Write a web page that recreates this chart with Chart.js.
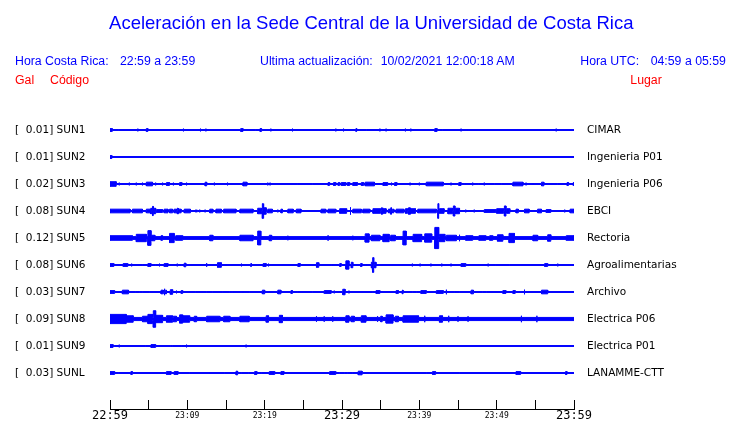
<!DOCTYPE html>
<html><head><meta charset="utf-8">
<script src="https://cdn.jsdelivr.net/npm/chart.js@4"></script>
<style>
html,body{margin:0;padding:0;background:#fff;}
#wrap{position:relative;width:740px;height:423px;overflow:hidden;background:#fff;}
#c{position:absolute;left:0;top:0;}
.t{position:absolute;white-space:pre;font-family:"Liberation Sans",Arial,sans-serif;line-height:1;}
.b{color:#0000ff;font-size:12.3px;top:54.6px;}
.r{color:#ff0000;font-size:12.3px;top:74.4px;}
</style></head><body>
<div id="wrap">
<canvas id="c" width="740" height="423"></canvas>
<div class="t" style="left:0;width:742.6px;text-align:center;top:14.3px;font-size:18.5px;color:#0000ff">Aceleración en la Sede Central de la Universidad de Costa Rica</div>
<div class="t b" style="left:15px">Hora Costa Rica:</div>
<div class="t b" style="left:120px">22:59 a 23:59</div>
<div class="t b" style="left:260px">Ultima actualización:</div>
<div class="t b" style="left:380.7px">10/02/2021 12:00:18 AM</div>
<div class="t b" style="left:580.3px">Hora UTC:</div>
<div class="t b" style="left:650.7px">04:59 a 05:59</div>
<div class="t r" style="left:15px">Gal</div>
<div class="t r" style="left:50px">Código</div>
<div class="t r" style="left:630.3px">Lugar</div>
</div>
<script>
// ---- data ----
const stationCodes = ['SUN1','SUN2','SUN3','SUN4','SUN5','SUN6','SUN7','SUN8','SUN9','SUNL'];
const peakGal = [0.01,0.01,0.02,0.08,0.12,0.08,0.03,0.09,0.01,0.03];
const stationNames = ['CIMAR','Ingenieria P01','Ingenieria P06','EBCI','Rectoria','Agroalimentarias','Archivo','Electrica P06','Electrica P01','LANAMME-CTT'];
const noiseGal = [0.005,0.005,0.005,0.005,0.015,0.005,0.005,0.017,0.005,0.005];
const timeLabels = ['22:59','23:09','23:19','23:29','23:39','23:49','23:59']; // minutes 0..60 every 10
// bursts: [start minute, end minute, amplitude Gal]
const SUN1 = [[0,0.3,0.015],[1.1,1.1,0.01],[3.6,3.6,0.015],[4.7,4.9,0.015],[9.5,9.5,0.015],[11.7,11.7,0.015],[12.4,12.4,0.015],[16.9,17.2,0.015],[18.8,18.8,0.01],[19.4,19.6,0.015],[20.8,20.8,0.015],[23.6,23.6,0.015],[29.2,29.2,0.015],[30.2,30.2,0.015],[31.8,31.9,0.015],[33.2,33.2,0.01],[34.9,34.9,0.015],[35.7,35.7,0.015],[38.2,38.2,0.015],[38.9,38.9,0.015],[42.0,42.3,0.015],[43.0,43.0,0.01],[45.4,45.4,0.015],[46.3,46.3,0.01],[57.7,57.7,0.015]];
const SUN2 = [[0,0.25,0.015]];
const SUN3 = [[0,0.8,0.025],[1.2,1.2,0.015],[2.5,2.5,0.015],[3.4,3.4,0.015],[4.2,4.2,0.015],[4.7,5.5,0.02],[5.9,5.9,0.015],[6.8,6.8,0.015],[7.3,7.7,0.015],[8.2,8.2,0.015],[9.0,9.3,0.015],[9.9,9.9,0.015],[12.3,12.5,0.02],[13.5,13.5,0.015],[15.2,15.2,0.015],[17.2,17.7,0.02],[20.4,20.4,0.015],[20.7,20.7,0.015],[24.3,24.3,0.01],[26.2,26.2,0.01],[28.2,28.4,0.015],[28.9,29.2,0.015],[29.5,29.7,0.015],[29.9,30.5,0.015],[30.7,31.0,0.015],[31.4,32.0,0.015],[32.5,32.8,0.015],[33.0,34.2,0.02],[35.3,35.9,0.015],[36.4,36.4,0.015],[36.8,37.1,0.015],[38.8,38.8,0.015],[40.0,40.0,0.015],[40.9,43.1,0.02],[44.1,44.1,0.015],[45.1,45.4,0.015],[45.9,45.9,0.01],[46.9,46.9,0.015],[47.7,47.7,0.01],[48.4,48.4,0.015],[49.7,49.7,0.01],[50.6,50.6,0.01],[52.1,53.4,0.02],[53.8,53.8,0.015],[54.7,54.7,0.01],[55.8,56.1,0.02],[57.9,57.9,0.01],[59.1,59.3,0.015],[59.9,60,0.015]];
const SUN4 = [[0,2.6,0.02],[2.9,4.2,0.02],[4.7,5.2,0.02],[5.3,5.4,0.03],[5.5,5.6,0.05],[5.7,5.9,0.03],[6.0,6.8,0.015],[7.0,7.5,0.02],[7.7,8.1,0.02],[8.3,8.6,0.02],[8.7,8.8,0.03],[8.9,9.2,0.02],[9.6,10.4,0.02],[11.0,11.3,0.01],[11.6,11.6,0.015],[12.3,12.3,0.015],[12.9,13.3,0.02],[13.7,14.4,0.02],[14.7,16.3,0.02],[16.8,18.5,0.02],[19.1,19.6,0.03],[19.7,19.8,0.08],[19.9,20.2,0.035],[20.4,21.0,0.02],[21.7,21.7,0.015],[22.1,22.3,0.02],[23.0,23.7,0.02],[24.1,24.7,0.02],[27.3,27.9,0.02],[28.2,29.2,0.02],[29.7,30.6,0.025],[31.1,31.1,0.04],[31.4,32.5,0.02],[32.7,33.6,0.02],[34.0,35.0,0.025],[35.1,35.2,0.035],[35.3,35.7,0.025],[36.0,36.2,0.02],[36.3,36.4,0.035],[36.5,36.7,0.02],[37.0,38.0,0.02],[38.2,38.5,0.025],[38.6,38.8,0.035],[38.9,39.5,0.025],[39.8,42.2,0.02],[42.4,42.5,0.08],[42.6,43.2,0.025],[43.7,44.3,0.03],[44.4,44.6,0.055],[44.7,45.2,0.03],[46.0,46.0,0.015],[47.1,47.1,0.015],[48.4,49.9,0.015],[50.0,50.9,0.025],[51.0,51.2,0.055],[51.3,51.7,0.025],[52.5,52.8,0.02],[53.6,54.2,0.02],[55.3,55.8,0.02],[56.4,57.0,0.015],[58.8,58.8,0.015],[59.5,60,0.02]];
const SUN5 = [[0,2.9,0.025],[3.4,4.7,0.04],[4.9,5.3,0.08],[5.4,5.8,0.03],[6.6,6.8,0.025],[7.7,8.3,0.05],[8.5,9.4,0.025],[12.9,13.3,0.03],[16.8,18.5,0.03],[19.1,19.5,0.075],[20.6,20.9,0.03],[23.0,23.0,0.025],[28.2,28.2,0.03],[31.4,31.4,0.025],[33.0,33.5,0.045],[33.8,34.9,0.03],[35.3,36.1,0.04],[36.3,36.9,0.03],[37.9,38.3,0.075],[39.2,40.3,0.04],[40.7,41.6,0.045],[42.0,42.5,0.115],[42.6,43.3,0.04],[43.5,44.8,0.03],[45.2,45.2,0.035],[46.0,46.9,0.025],[47.7,48.6,0.025],[49.1,49.5,0.025],[50.1,50.8,0.035],[51.6,52.3,0.05],[54.7,55.3,0.03],[56.6,57.0,0.035],[59.0,60,0.025]];
const SUN6 = [[0,0.5,0.015],[1.7,2.3,0.015],[2.8,2.8,0.015],[4.2,4.2,0.01],[4.9,5.3,0.015],[5.9,5.9,0.01],[6.4,6.4,0.015],[7.0,7.5,0.015],[8.7,8.7,0.015],[9.2,9.2,0.01],[9.6,9.8,0.02],[12.5,12.5,0.02],[13.9,14.4,0.025],[15.0,15.0,0.01],[17.0,17.0,0.015],[18.2,18.3,0.015],[19.8,20.2,0.015],[20.5,20.5,0.015],[24.3,24.6,0.015],[26.7,27.0,0.025],[28.7,28.7,0.01],[29.7,29.9,0.015],[30.5,30.9,0.045],[31.2,31.4,0.03],[32.4,32.6,0.015],[33.1,33.1,0.01],[33.8,33.9,0.03],[34.0,34.1,0.08],[34.2,34.4,0.03],[39.1,39.1,0.015],[40.1,40.1,0.015],[41.5,41.5,0.015],[42.9,42.9,0.015],[44.1,44.1,0.015],[45.4,46.0,0.015],[48.9,48.9,0.015],[49.8,49.8,0.01],[51.7,51.7,0.01],[56.2,56.6,0.015],[57.9,57.9,0.015]];
const SUN7 = [[0,0.6,0.015],[1.6,2.4,0.02],[3.3,3.3,0.01],[3.8,3.8,0.01],[4.2,4.2,0.01],[5.1,5.1,0.01],[6.6,6.9,0.02],[7.0,7.1,0.035],[7.2,7.3,0.02],[7.8,8.1,0.025],[8.6,8.6,0.015],[9.2,9.4,0.015],[11.1,11.1,0.01],[12.5,12.5,0.01],[13.3,13.3,0.01],[14.5,14.5,0.01],[15.5,15.5,0.01],[15.9,15.9,0.01],[17.2,17.2,0.01],[18.0,18.0,0.01],[19.7,20.0,0.02],[21.7,22.1,0.02],[23.4,23.6,0.015],[24.3,24.3,0.01],[26.2,26.2,0.01],[27.7,28.6,0.015],[29.0,29.0,0.015],[30.1,30.4,0.03],[30.9,30.9,0.015],[33.9,33.9,0.01],[34.4,34.9,0.015],[37.0,37.3,0.015],[37.8,37.9,0.02],[39.1,39.1,0.01],[39.6,39.6,0.01],[40.2,40.9,0.015],[42.2,43.1,0.015],[43.5,43.5,0.025],[44.6,44.6,0.01],[45.2,45.2,0.01],[46.7,47.0,0.02],[48.2,48.2,0.01],[48.7,48.7,0.01],[50.8,51.2,0.015],[52.1,52.4,0.015],[53.6,53.6,0.025],[55.8,56.6,0.02]];
const SUN8 = [[0,2.1,0.05],[2.1,3.0,0.035],[4.2,4.9,0.03],[4.9,5.5,0.05],[5.6,5.9,0.09],[5.9,6.8,0.04],[7.3,8.1,0.035],[8.2,8.6,0.03],[9.0,9.4,0.045],[9.4,10.3,0.035],[10.9,11.2,0.03],[12.5,14.2,0.03],[14.7,15.5,0.03],[16.8,18.0,0.03],[20.2,20.5,0.035],[21.9,22.3,0.04],[26.7,26.7,0.03],[27.7,27.7,0.03],[28.8,28.8,0.03],[30.5,30.9,0.035],[31.2,31.6,0.03],[32.5,33.1,0.035],[34.6,34.6,0.03],[35.0,35.2,0.03],[35.7,36.6,0.045],[36.9,37.3,0.03],[37.9,39.9,0.035],[40.7,40.7,0.035],[42.6,43.0,0.035],[43.8,43.8,0.035],[45.0,45.0,0.03],[46.3,46.3,0.03],[53.2,53.2,0.035],[55.2,55.2,0.035]];
const SUN9 = [[0,0.4,0.015],[0.6,0.6,0.01],[1.2,1.2,0.015],[4.6,4.6,0.01],[5.3,5.9,0.015],[7.8,7.8,0.01],[8.1,8.1,0.01],[9.3,9.3,0.01],[9.9,9.9,0.015],[17.6,17.6,0.015]];
const SUNL = [[0,0.6,0.015],[1.1,1.1,0.01],[2.7,2.9,0.015],[7.3,7.9,0.015],[8.3,8.8,0.015],[10.3,10.3,0.01],[12.8,12.8,0.01],[14.8,14.8,0.01],[16.3,16.5,0.02],[17.0,17.0,0.01],[17.9,17.9,0.01],[18.7,19.0,0.015],[19.6,19.6,0.01],[20.6,21.3,0.015],[22.1,22.5,0.015],[28.4,29.2,0.015],[29.7,29.7,0.01],[30.3,30.3,0.01],[30.7,30.7,0.01],[31.4,31.4,0.01],[32.1,32.6,0.02],[33.5,33.5,0.01],[40.9,40.9,0.01],[41.7,42.1,0.015],[45.2,45.2,0.01],[52.5,53.1,0.015],[58.9,59.1,0.015]];
const bursts = [SUN1,SUN2,SUN3,SUN4,SUN5,SUN6,SUN7,SUN8,SUN9,SUNL];

// ---- drawing ----
const BLUE = 'rgb(0,0,255)';
const ROWS_PER_GAL = 92/27; // trace scale: ~92 px per Gal, rows 27 px apart
const T_END = 60;

function envelope(i, noise, list, sign) {
  const base = i + sign*noise*ROWS_PER_GAL;
  const pts = [{x:0, y:base}];
  list.forEach(([s,e,a]) => {
    const A = i + sign*Math.max(a, noise)*ROWS_PER_GAL;
    pts.push({x:s,y:base},{x:s,y:A},{x:e,y:A},{x:e,y:base});
  });
  pts.push({x:T_END, y:base});
  return pts;
}

const datasets = [];
stationCodes.forEach((code, i) => {
  datasets.push({label: code+' +', data: envelope(i, noiseGal[i], bursts[i], -1),
    borderColor: BLUE, backgroundColor: BLUE, borderWidth: 1, pointRadius: 0, pointHoverRadius: 0, fill: '+1', tension: 0});
  datasets.push({label: code+' -', data: envelope(i, noiseGal[i], bursts[i], 1),
    borderColor: BLUE, backgroundColor: BLUE, borderWidth: 1, pointRadius: 0, pointHoverRadius: 0, fill: false, tension: 0});
});

const rowTicks = (scale) => { scale.ticks = stationCodes.map((_, i) => ({value: i})); };
const leftLabel = (v) => '[  ' + peakGal[v].toFixed(2) + '] ' + stationCodes[v];

new Chart(document.getElementById('c'), {
  type: 'line',
  data: {datasets},
  options: {
    responsive: false, animation: false, devicePixelRatio: 1,
    layout: {padding: {top: 103, left: 15, right: 0, bottom: 0}},
    plugins: {legend: {display: false}, tooltip: {enabled: false}, title: {display: false}},
    scales: {
      x: {
        type: 'linear', position: 'bottom', min: 0, max: T_END,
        afterFit: (s) => { s.height = 14; },
        afterBuildTicks: (s) => { s.ticks = []; for (let m = 0; m <= T_END; m += 5) s.ticks.push({value: m}); },
        grid: {display: true, drawOnChartArea: false, drawTicks: true, tickLength: -9, color: '#000', lineWidth: 1},
        border: {display: true, color: '#000', width: 1},
        ticks: {
          autoSkip: false, maxRotation: 0, minRotation: 0, padding: 10, color: '#000',
          callback: (v) => (v % 10 === 0 ? timeLabels[v/10] : ''),
          font: (ctx) => (ctx.tick && ctx.tick.value % 30 === 0)
            ? {family: '"DejaVu Sans Mono", monospace', size: 12, lineHeight: '12px'}
            : {family: '"DejaVu Sans Mono", monospace', size: 8, lineHeight: '12px'}
        }
      },
      y: {
        type: 'linear', position: 'left', reverse: true, min: -1, max: 9 + 36/27,
        afterFit: (s) => { s.width = 95; },
        afterBuildTicks: rowTicks,
        grid: {display: false, drawTicks: false}, border: {display: false},
        ticks: {crossAlign: 'far', padding: 0, color: '#000', autoSkip: false,
          font: {family: '"DejaVu Sans", sans-serif', size: 10.5},
          callback: leftLabel}
      },
      y2: {
        type: 'linear', position: 'right', reverse: true, min: -1, max: 9 + 36/27,
        afterFit: (s) => { s.width = 166; },
        afterBuildTicks: rowTicks,
        grid: {display: false, drawTicks: true, tickLength: 13}, border: {display: false},
        ticks: {crossAlign: 'near', padding: 0, color: '#000', autoSkip: false,
          font: {family: '"DejaVu Sans", sans-serif', size: 10.5},
          callback: (v) => stationNames[v]}
      }
    }
  }
});
</script>
</body></html>
